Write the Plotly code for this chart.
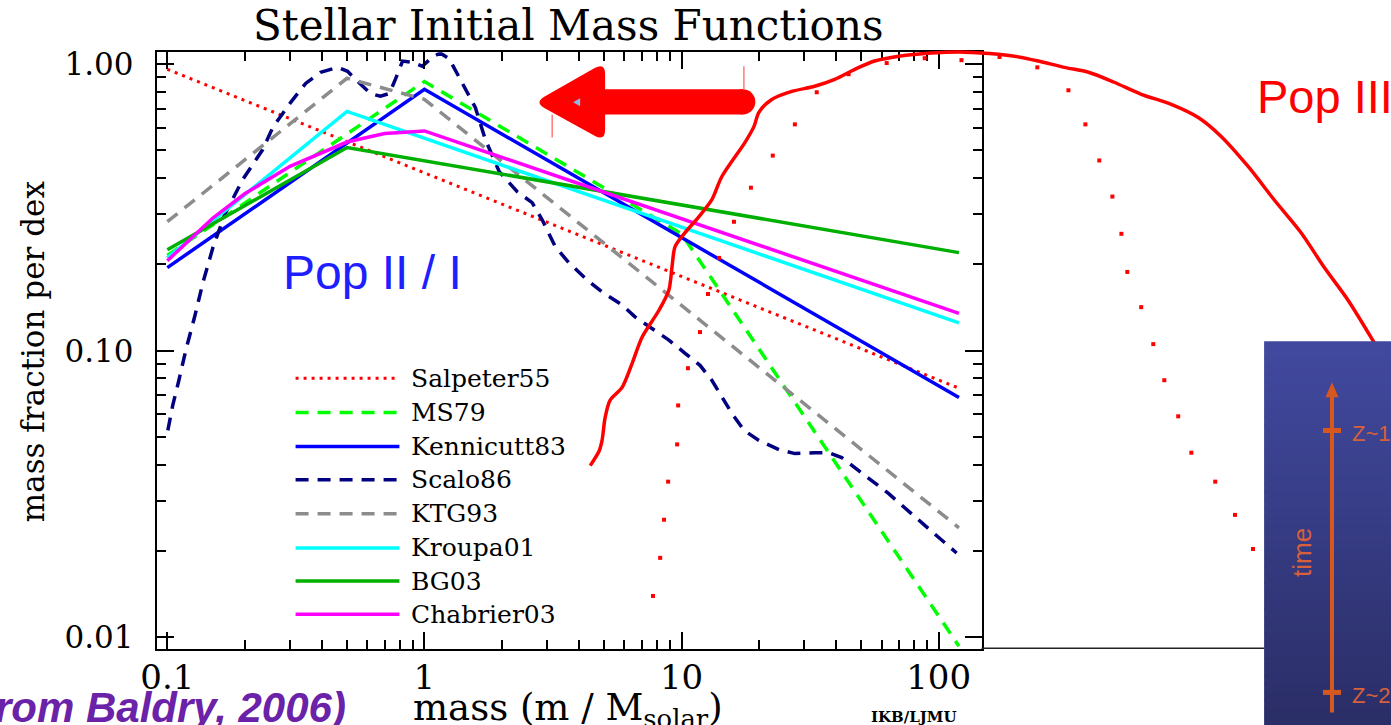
import numpy as np
import plotly.graph_objects as go

W, H = 1391, 725

# ---------------- IMF data: mass [Msun] vs mass fraction per dex ----------------
salpeter_m = [0.1, 120]
salpeter_f = [0.96, 0.074]

ms79_m = [0.1, 1.0, 10.0, 120]
ms79_f = [0.215, 0.87, 0.256, 0.0093]

kennicutt_m = [0.1, 1.0, 120]
kennicutt_f = [0.195, 0.817, 0.0687]

ktg93_m = [0.1, 0.5, 1.0, 120]
ktg93_f = [0.282, 0.893, 0.754, 0.0241]

kroupa_m = [0.1, 0.5, 120]
kroupa_f = [0.211, 0.684, 0.125]

bg03_m = [0.1, 0.5, 120]
bg03_f = [0.225, 0.512, 0.22]

chabrier_m = [0.1, 0.15, 0.2, 0.3, 0.5, 0.7, 1.0, 120]
chabrier_f = [0.206, 0.29, 0.353, 0.44, 0.535, 0.573, 0.585, 0.135]

# Scalo86 is tabulated in log10 units
scalo_logm = [-0.998, -0.979, -0.955, -0.928, -0.893, -0.862, -0.823, -0.777, -0.707, -0.629,
              -0.590, -0.520, -0.462, -0.404, -0.338, -0.299, -0.260, -0.210, -0.171, -0.136,
              -0.113, -0.085, -0.047, -0.008, 0.031, 0.062, 0.097, 0.128, 0.159, 0.198,
              0.237, 0.291, 0.361, 0.419, 0.458, 0.509, 0.563, 0.633, 0.691, 0.769,
              0.819, 0.885, 0.951, 1.014, 1.072, 1.118, 1.157, 1.196, 1.243, 1.301,
              1.379, 1.441, 1.518, 1.573, 1.623, 1.674, 1.740, 1.806, 1.868, 1.934,
              1.984, 2.070]
scalo_logf = [-1.278, -1.191, -1.103, -0.998, -0.879, -0.764, -0.641, -0.525, -0.403, -0.298,
              -0.221, -0.133, -0.067, -0.028, -0.011, -0.025, -0.060, -0.102, -0.112, -0.102,
              -0.053, 0.011, 0.007, -0.007, 0.025, 0.039, 0.018, -0.035, -0.088, -0.151,
              -0.263, -0.375, -0.445, -0.483, -0.543, -0.637, -0.694, -0.753, -0.795, -0.840,
              -0.882, -0.921, -0.963, -1.009, -1.051, -1.103, -1.163, -1.219, -1.278, -1.313,
              -1.345, -1.359, -1.356, -1.356, -1.373, -1.408, -1.454, -1.499, -1.548, -1.601,
              -1.639, -1.706]

# Pop III mass function sketches (log10 mass, log10 mass fraction)
popiii_logm = [0.645, 0.680, 0.691, 0.703, 0.722, 0.769, 0.808, 0.847, 0.913, 0.951,
               0.963, 0.975, 1.014, 1.068, 1.118, 1.157, 1.247, 1.282, 1.301, 1.351,
               1.429, 1.518, 1.596, 1.674, 1.751, 1.845, 1.973, 2.101, 2.233, 2.295,
               2.388, 2.489, 2.583, 2.683, 2.788, 2.905, 3.010, 3.099, 3.204, 3.305,
               3.410, 3.499, 3.592, 3.693, 3.763]
popiii_logf = [-1.401, -1.349, -1.313, -1.233, -1.173, -1.128, -1.044, -0.952, -0.858, -0.788,
               -0.708, -0.637, -0.588, -0.532, -0.473, -0.392, -0.273, -0.217, -0.168, -0.123,
               -0.095, -0.077, -0.053, -0.018, 0.011, 0.028, 0.039, 0.042, 0.035, 0.028,
               0.011, -0.011, -0.028, -0.063, -0.105, -0.140, -0.186, -0.252, -0.357, -0.473,
               -0.588, -0.708, -0.823, -0.970, -1.078]

popiii_dot_logm = [0.889, 0.917, 0.932, 0.948, 0.983, 0.987, 1.025, 1.072, 1.103, 1.146,
                   1.204, 1.270, 1.355, 1.441, 1.526, 1.650, 1.798, 1.946, 2.089, 2.237,
                   2.384, 2.505, 2.571, 2.625, 2.676, 2.711, 2.734, 2.788, 2.835, 2.878,
                   2.932, 2.983, 3.076, 3.153, 3.223]
popiii_dot_logf = [-1.856, -1.723, -1.590, -1.457, -1.327, -1.191, -1.061, -0.935, -0.802, -0.676,
                   -0.550, -0.431, -0.319, -0.210, -0.098, -0.035, 0.004, 0.021, 0.014, 0.025,
                   -0.011, -0.091, -0.210, -0.336, -0.462, -0.592, -0.725, -0.848, -0.977, -1.103,
                   -1.229, -1.356, -1.457, -1.573, -1.692]

x_tick_vals = [0.1, 1, 10, 100]
x_tick_text = ["0.1", "1", "10", "100"]
y_tick_vals = [1.0, 0.1, 0.01]
y_tick_text = ["1.00", "0.10", "0.01"]

# name, masses, fractions, colour, dash, width
series = [
    ("Salpeter55", salpeter_m, salpeter_f, "#ff0000", "3px,5px", 3),
    ("MS79", ms79_m, ms79_f, "#00ff00", "13px,9px", 3.5),
    ("Kennicutt83", kennicutt_m, kennicutt_f, "#0000ff", "solid", 3.5),
    ("Scalo86", list(10 ** np.array(scalo_logm)), list(10 ** np.array(scalo_logf)), "#000080", "13px,9px", 3.5),
    ("KTG93", ktg93_m, ktg93_f, "#8c8c8c", "13px,9px", 3.5),
    ("Kroupa01", kroupa_m, kroupa_f, "#00ffff", "solid", 3.5),
    ("BG03", bg03_m, bg03_f, "#00b000", "solid", 3.5),
    ("Chabrier03", chabrier_m, chabrier_f, "#ff00ff", "solid", 3.5),
]

# ---------------- layout geometry ----------------
# design coordinates (px, origin top-left) are mapped onto the page with a
# small offset/scale so the composition sits where intended on screen
OX, OY, SX, SY = 13.0, 7.0, 0.99, 0.98


def gx(x):
    return (x - OX) / SX


def gy(y):
    return (y - OY) / SY


def px(x):
    return gx(x) / W


def py(y):
    return 1 - gy(y) / H


FL, FR, FT, FB = 154, 980, 53, 648          # axes frame, design px
X_RANGE = [-1.041, 2.167]
Y_RANGE = [-2.042, 0.042]
FLp, FRp, FTp, FBp = gx(FL), gx(FR), gy(FT), gy(FB)
sxp = (X_RANGE[1] - X_RANGE[0]) / (FRp - FLp)
syp = (Y_RANGE[1] - Y_RANGE[0]) / (FBp - FTp)
OV_X = [X_RANGE[0] - FLp * sxp, X_RANGE[1] + (W - FRp) * sxp]
OV_Y = [Y_RANGE[0] - (H - FBp) * syp, Y_RANGE[1] + FTp * syp]

fig = go.Figure()

for name, m, f, color, dash, width in series:
    fig.add_trace(go.Scatter(
        x=m, y=f, mode="lines", name=name, showlegend=False, hoverinfo="skip",
        line=dict(color=color, dash=dash, width=width), xaxis="x", yaxis="y"))

# Pop III curves on a full-page overlay sharing the same log scales
fig.add_trace(go.Scatter(
    x=10 ** np.array(popiii_dot_logm), y=10 ** np.array(popiii_dot_logf), mode="markers",
    marker=dict(symbol="square", size=4, color="#ff0000", line=dict(width=0)),
    showlegend=False, hoverinfo="skip", xaxis="x2", yaxis="y2"))
fig.add_trace(go.Scatter(
    x=10 ** np.array(popiii_logm), y=10 ** np.array(popiii_logf), mode="lines",
    line=dict(color="#ff0000", width=3.5, shape="spline", smoothing=0.8),
    showlegend=False, hoverinfo="skip", xaxis="x2", yaxis="y2"))

minor_x = [k * 10.0 ** e for e in range(-1, 3) for k in range(2, 10) if k * 10.0 ** e < 147]
minor_y = [k * 10.0 ** e for e in range(-2, 0) for k in range(2, 10)]

axis_common = dict(
    type="log", showline=True, linecolor="black", linewidth=2, mirror="ticks",
    ticks="inside", ticklen=17, tickwidth=2, tickcolor="black",
    showgrid=False, zeroline=False, tickmode="array",
)

shapes = []
annotations = []

# legend drawn inside the frame
leg_rows = [378, 412, 446, 479, 513, 547, 580, 613]
for (name, m, f, color, dash, width), ry in zip(series, leg_rows):
    shapes.append(dict(type="line", xref="paper", yref="paper",
                       x0=px(293), x1=px(397), y0=py(ry), y1=py(ry),
                       line=dict(color=color, width=width, dash=dash)))
    annotations.append(dict(text=name, x=px(407), y=py(ry), xref="paper", yref="paper",
                            xanchor="left", yanchor="middle", showarrow=False,
                            font=dict(family="DejaVu Serif", size=25, color="black")))


def rounded_path(pts, r):
    segs = []
    n = len(pts)
    for i in range(n):
        p0, p1, p2 = np.array(pts[i - 1], float), np.array(pts[i], float), np.array(pts[(i + 1) % n], float)
        v1 = (p0 - p1) / np.linalg.norm(p0 - p1)
        v2 = (p2 - p1) / np.linalg.norm(p2 - p1)
        segs.append((p1 + v1 * r, p1, p1 + v2 * r))
    P = lambda p: f"{px(p[0]):.5f},{py(p[1]):.5f}"
    d = f"M{P(segs[0][0])} Q{P(segs[0][1])} {P(segs[0][2])}"
    for a, c, b in segs[1:]:
        d += f" L{P(a)} Q{P(c)} {P(b)}"
    return d + " Z"


def tri(p1, p2, p3):
    return "M" + " L".join(f"{px(x):.5f},{py(y):.5f}" for x, y in (p1, p2, p3)) + " Z"


# big red arrow pointing to low masses
RED = "#ff0000"
shapes.append(dict(type="rect", xref="paper", yref="paper", layer="above",
                   x0=px(596), x1=px(741), y0=py(115), y1=py(90),
                   fillcolor=RED, line=dict(width=0)))
shapes.append(dict(type="circle", xref="paper", yref="paper", layer="above",
                   x0=px(728.5), x1=px(753.5), y0=py(115), y1=py(90),
                   fillcolor=RED, line=dict(width=0)))
shapes.append(dict(type="path", xref="paper", yref="paper", layer="above",
                   path=rounded_path([(532, 103), (603, 63), (603, 142)], 12),
                   fillcolor=RED, line=dict(width=0)))
shapes.append(dict(type="path", xref="paper", yref="paper", layer="above",
                   path=tri((571, 103), (578, 99), (578, 107)),
                   fillcolor="#8fb8e8", line=dict(width=0)))
for xx, ya, yb in [(742, 67, 90), (550, 115, 138)]:
    shapes.append(dict(type="line", xref="paper", yref="paper", layer="above",
                       x0=px(xx), x1=px(xx), y0=py(ya), y1=py(yb),
                       line=dict(color="#ff7a7a", width=1.5)))

# frame line of the right-hand panel
shapes.append(dict(type="line", xref="paper", yref="paper", layer="above",
                   x0=px(FR), x1=px(1263), y0=py(647), y1=py(647),
                   line=dict(color="#222222", width=1.5)))

# blue inset with a time axis
top_c, bot_c = np.array([66, 74, 160]), np.array([42, 45, 100])
n_strip = 48
edges = np.linspace(341, 740, n_strip + 1)
for i in range(n_strip):
    c = top_c + (bot_c - top_c) * (i + 0.5) / n_strip
    shapes.append(dict(type="rect", xref="paper", yref="paper", layer="above",
                       x0=px(1263), x1=px(1420), y0=py(edges[i]), y1=py(edges[i + 1] + 0.8),
                       fillcolor=f"rgb({int(c[0])},{int(c[1])},{int(c[2])})", line=dict(width=0)))
ORANGE = "#d7581f"
shapes.append(dict(type="line", xref="paper", yref="paper", layer="above",
                   x0=px(1331), x1=px(1331), y0=py(711), y1=py(393),
                   line=dict(color=ORANGE, width=4)))
shapes.append(dict(type="path", xref="paper", yref="paper", layer="above",
                   path=tri((1331, 382), (1324.5, 397), (1337.5, 397)),
                   fillcolor=ORANGE, line=dict(width=0)))
for ty in (430, 691):
    shapes.append(dict(type="line", xref="paper", yref="paper", layer="above",
                       x0=px(1322), x1=px(1340), y0=py(ty), y1=py(ty),
                       line=dict(color=ORANGE, width=5)))

annotations += [
    dict(text="Stellar Initial Mass Functions", x=px(566), y=py(26), xanchor="center", yanchor="middle",
         font=dict(family="DejaVu Serif", size=42, color="black")),
    dict(text="mass fraction per dex", x=px(30), y=py(351), textangle=-90, xanchor="center", yanchor="middle",
         font=dict(family="DejaVu Serif", size=31, color="black")),
    dict(text="mass (m / M<sub>solar</sub>)", x=px(566), y=py(709), xanchor="center", yanchor="middle",
         font=dict(family="DejaVu Serif", size=37, color="black")),
    dict(text="<b>IKB/LJMU</b>", x=px(912), y=py(716), xanchor="center", yanchor="middle",
         font=dict(family="DejaVu Serif", size=15, color="black")),
    dict(text="Pop II / I", x=px(370), y=py(273), xanchor="center", yanchor="middle",
         font=dict(family="Liberation Sans", size=48, color="#1e1eff")),
    dict(text="Pop III", x=px(1254), y=py(97), xanchor="left", yanchor="middle",
         font=dict(family="Liberation Sans", size=47, color="#ff0000")),
    dict(text="<b><i>(from Baldry, 2006)</i></b>", x=px(346), y=py(706), xanchor="right", yanchor="middle",
         font=dict(family="Liberation Sans", size=42, color="#6a22a8")),
    dict(text="time", x=px(1301), y=py(552), textangle=-90, xanchor="center", yanchor="middle",
         font=dict(family="Liberation Sans", size=26, color="#d8603a")),
    dict(text="Z~10", x=px(1349), y=py(433), xanchor="left", yanchor="middle",
         font=dict(family="Liberation Sans", size=22, color="#d8603a")),
    dict(text="Z~20", x=px(1349), y=py(694), xanchor="left", yanchor="middle",
         font=dict(family="Liberation Sans", size=22, color="#d8603a")),
]
for a in annotations:
    a.setdefault("xref", "paper")
    a.setdefault("yref", "paper")
    a.setdefault("showarrow", False)

fig.update_layout(
    width=W, height=H, autosize=False,
    margin=dict(l=0, r=0, t=0, b=0),
    paper_bgcolor="white", plot_bgcolor="rgba(0,0,0,0)",
    showlegend=False,
    xaxis=dict(axis_common, range=X_RANGE, domain=[FLp / W, FRp / W], anchor="y",
               tickvals=x_tick_vals, ticktext=x_tick_text, ticklabelstandoff=-3,
               tickfont=dict(family="DejaVu Serif", size=34, color="black"),
               minor=dict(tickmode="array", tickvals=minor_x, ticks="inside", ticklen=9,
                          tickwidth=1.5, tickcolor="black", showgrid=False)),
    yaxis=dict(axis_common, range=Y_RANGE, domain=[1 - FBp / H, 1 - FTp / H], anchor="x",
               tickvals=y_tick_vals, ticktext=y_tick_text, ticklabelstandoff=15,
               tickfont=dict(family="DejaVu Serif", size=31, color="black"),
               minor=dict(tickmode="array", tickvals=minor_y, ticks="inside", ticklen=9,
                          tickwidth=1.5, tickcolor="black", showgrid=False)),
    xaxis2=dict(type="log", range=OV_X, domain=[0, 1], anchor="y2", visible=False, fixedrange=True),
    yaxis2=dict(type="log", range=OV_Y, domain=[0, 1], anchor="x2", visible=False, fixedrange=True),
    shapes=shapes,
    annotations=annotations,
)

fig.write_html("out.html")
